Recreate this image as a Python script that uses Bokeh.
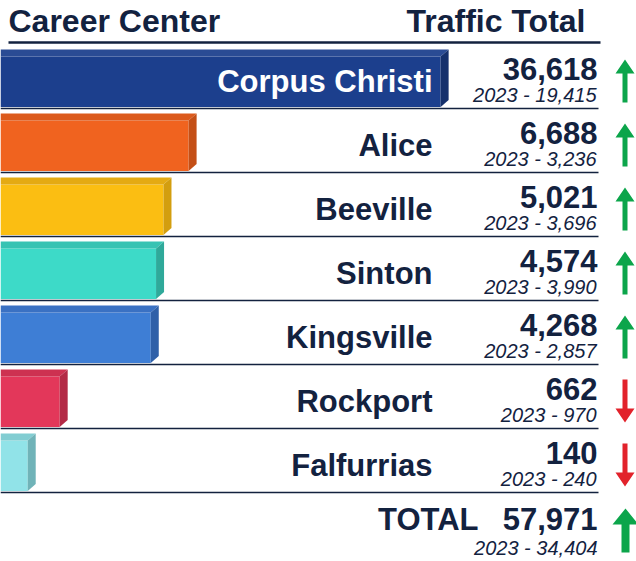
import numpy as np
from bokeh.plotting import figure
from bokeh.models import Range1d, ColumnDataSource
from bokeh.embed import file_html
from bokeh.resources import INLINE
from bokeh.core.properties import value

# ---------------- data ----------------
centers = ["Corpus Christi", "Alice", "Beeville", "Sinton", "Kingsville", "Rockport", "Falfurrias"]
traffic_2024 = [36618, 6688, 5021, 4574, 4268, 662, 140]
traffic_2023 = [19415, 3236, 3696, 3990, 2857, 970, 240]
header_left = "Career Center"
header_right = "Traffic Total"
total_label = "TOTAL"

front_colors = ["#1c3f8d", "#f0631f", "#fbbe12", "#3ddac8", "#3e7ed5", "#e3375a", "#91e3e8"]
top_colors = ["#2a4b94", "#dc5a1c", "#e4aa13", "#37c3b3", "#3a71c3", "#cd3151", "#82cdd2"]
side_colors = ["#15306c", "#c44f16", "#d39e0f", "#2fa99a", "#2f60a8", "#b32a46", "#70b3b8"]
NAVY = "#13223f"
GREEN = "#0ca54b"
RED = "#e2222b"
FONT = "Liberation Sans"

total_2024 = sum(traffic_2024)
total_2023 = sum(traffic_2023)

# ---------------- layout helpers ----------------
W, H = 636, 561
K = 2.3                     # pixels per sqrt(visit) unit (bar length ~ sqrt of traffic)
ROW_H = 64.0
ROW0 = 76.0                 # pixel centre of the first row


def X(px):
    return px / K


def Y(py):
    return (py - ROW0) / ROW_H


def TB(py, size):
    # baseline pixel -> y for the text glyph (empirical baseline correction)
    return Y(py - 0.40 * size)


p = figure(width=W, height=H, output_backend="svg", toolbar_location=None,
           x_range=Range1d(0, X(W)), y_range=Range1d(Y(H), Y(0)), min_border=0)
p.axis.visible = False
p.grid.visible = False
p.outline_line_color = None
p.background_fill_color = "white"
p.border_fill_color = "white"

n = len(centers)
rows = np.arange(n)

# separators
p.segment(x0=[X(0)] * n, x1=[X(598)] * n, y0=rows + 0.5, y1=rows + 0.5,
          line_color=NAVY, line_width=1.6)
# header underline
p.segment(x0=[X(8)], x1=[X(600)], y0=[Y(42)], y1=[Y(42)], line_color=NAVY, line_width=2.6)

# ---------------- 3D bars ----------------
lengths = np.sqrt(np.array(traffic_2024, dtype=float))
dx = X(8)
tt = rows - 0.5 + 5 / ROW_H      # top of top face
ft = rows - 0.5 + 12 / ROW_H     # top of front face
fb = rows + 0.5 - 1.5 / ROW_H    # bottom of front face
dd = 7 / ROW_H

p.quad(left=0, right=lengths, top=ft, bottom=fb, fill_color=front_colors, line_color=None)
top_xs = [[0, 0, L + dx, L] for L in lengths]
top_ys = [[a, b, b, a] for a, b in zip(ft, tt)]
p.patches(top_xs, top_ys, fill_color=top_colors, line_color=None)
side_xs = [[L, L + dx, L + dx, L] for L in lengths]
side_ys = [[a, b, c - dd, c] for a, b, c in zip(ft, tt, fb)]
p.patches(side_xs, side_ys, fill_color=side_colors, line_color=None)

# ---------------- texts ----------------
BIG, HEAD, SMALL = 31, 32, 20
p.text(x=[X(8)], y=[TB(33, HEAD)], text=[header_left], text_font=value(FONT), text_font_style="bold",
       text_font_size=f"{HEAD}px", text_color=NAVY, text_align="left", text_baseline="alphabetic")
p.text(x=[X(585)], y=[TB(33, HEAD)], text=[header_right], text_font=value(FONT), text_font_style="bold",
       text_font_size=f"{HEAD}px", text_color=NAVY, text_align="right", text_baseline="alphabetic")

row_top_px = 44 + ROW_H * rows
name_src = ColumnDataSource(dict(x=[X(432)] * n, y=[TB(v + 49, BIG) for v in row_top_px], t=centers,
                                 c=["white"] + [NAVY] * (n - 1)))
p.text(x="x", y="y", text="t", source=name_src, text_font=value(FONT), text_font_style="bold",
       text_font_size=f"{BIG}px", text_color="c", text_align="right", text_baseline="alphabetic")

num_src = ColumnDataSource(dict(x=[X(597)] * n, y=[TB(v + 37, BIG) for v in row_top_px],
                                t=[f"{v:,}" for v in traffic_2024]))
p.text(x="x", y="y", text="t", source=num_src, text_font=value(FONT), text_font_style="bold",
       text_font_size=f"{BIG}px", text_color=NAVY, text_align="right", text_baseline="alphabetic")

yr_src = ColumnDataSource(dict(x=[X(596)] * n, y=[TB(v + 58, SMALL) for v in row_top_px],
                               t=[f"2023 - {v:,}" for v in traffic_2023]))
p.text(x="x", y="y", text="t", source=yr_src, text_font=value(FONT), text_font_style="italic",
       text_font_size=f"{SMALL}px", text_color=NAVY, text_align="right", text_baseline="alphabetic")

# total row
p.text(x=[X(478)], y=[TB(531, BIG)], text=[total_label], text_font=value(FONT), text_font_style="bold",
       text_font_size=f"{BIG}px", text_color=NAVY, text_align="right", text_baseline="alphabetic")
p.text(x=[X(597)], y=[TB(531, BIG)], text=[f"{total_2024:,}"], text_font=value(FONT),
       text_font_style="bold", text_font_size=f"{BIG}px", text_color=NAVY, text_align="right",
       text_baseline="alphabetic")
p.text(x=[X(597)], y=[TB(555, SMALL)], text=[f"2023 - {total_2023:,}"], text_font=value(FONT),
       text_font_style="italic", text_font_size=f"{SMALL}px", text_color=NAVY, text_align="right",
       text_baseline="alphabetic")


# ---------------- arrows ----------------
def arrow(cx, top_px, bot_px, up, head_w, head_h, shaft_w):
    hw, sw = head_w / 2, shaft_w / 2
    if up:
        pts = [(cx, top_px), (cx + hw, top_px + head_h), (cx + sw, top_px + head_h),
               (cx + sw, bot_px), (cx - sw, bot_px), (cx - sw, top_px + head_h),
               (cx - hw, top_px + head_h)]
    else:
        pts = [(cx, bot_px), (cx + hw, bot_px - head_h), (cx + sw, bot_px - head_h),
               (cx + sw, top_px), (cx - sw, top_px), (cx - sw, bot_px - head_h),
               (cx - hw, bot_px - head_h)]
    return [X(a) for a, _ in pts], [Y(b) for _, b in pts]


axs, ays, acol = [], [], []
for i in range(n):
    up = traffic_2024[i] >= traffic_2023[i]
    rt = 44 + ROW_H * i
    xs, ys = arrow(624.5, rt + 15, rt + 58, up, 19, 14, 5)
    axs.append(xs); ays.append(ys); acol.append(GREEN if up else RED)
up_t = total_2024 >= total_2023
xs, ys = arrow(625, 508, 552, up_t, 26, 16, 8)
axs.append(xs); ays.append(ys); acol.append(GREEN if up_t else RED)
p.patches(axs, ays, fill_color=acol, line_color=None)

open("out.html", "w").write(file_html(p, INLINE))
